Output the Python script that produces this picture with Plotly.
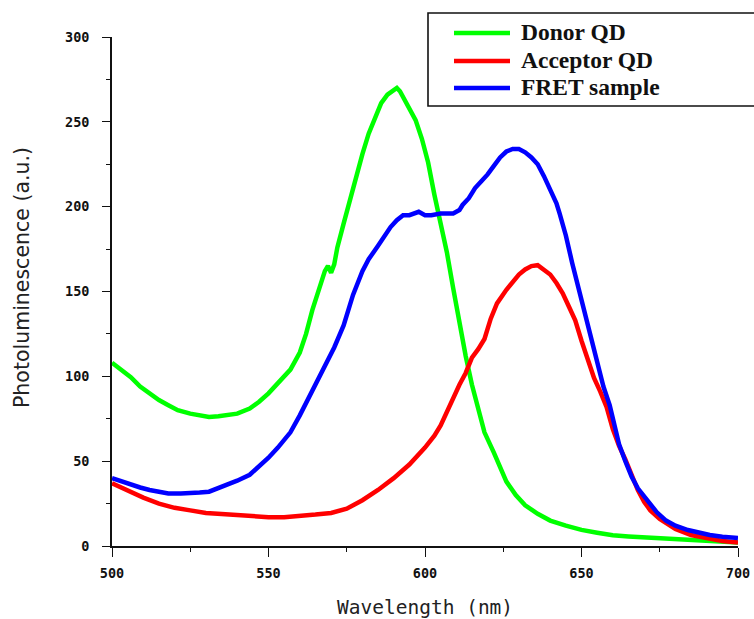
import plotly.graph_objects as go

# ---- spectra (wavelength in nm, photoluminescence in a.u.) ----
donor_wl = [500, 503, 506, 509, 512, 515, 518, 521, 525, 528, 531, 534, 537, 540, 544, 547,
            550, 553, 557, 560, 562, 564, 566, 568, 569, 570, 571, 572, 574, 576, 578, 580,
            582, 584, 586, 588, 590, 591, 592, 594, 596, 597, 599, 601, 603, 605, 607, 609,
            611, 613, 615, 617, 619, 622, 624, 626, 629, 632, 636, 640, 645, 650, 655, 660,
            665, 670, 675, 680, 685, 690, 695, 700]
donor_pl = [108, 104, 99.5, 94, 90, 86, 83, 80, 78, 77, 76, 76.5, 77, 78, 81, 85,
            90, 96, 104, 114, 125, 139, 151, 162, 165, 161, 166, 176, 190, 204, 218, 231,
            243, 252, 261, 266, 269, 270, 268, 261, 255, 251, 240, 226, 207, 190, 173, 152,
            131, 112, 95, 81, 67, 55, 46, 38, 30, 24, 19, 15, 12, 9.5, 7.8, 6.3,
            5.6, 5, 4.5, 4, 3.3, 2.6, 2.2, 2]

acceptor_wl = [500, 505, 510, 515, 520, 525, 530, 535, 540, 545, 550, 555, 560, 565, 570, 575,
               580, 585, 590, 595, 600, 603, 605, 607, 609, 611, 613, 615, 617, 619, 621, 623,
               626, 628, 630, 632, 634, 636, 638, 640, 642, 644, 646, 648, 650, 652, 654, 656,
               658, 660, 662, 664, 666, 668, 670, 672, 675, 680, 685, 690, 695, 700]
acceptor_pl = [37, 32.5, 28.5, 25, 22.5, 21, 19.5, 18.8, 18, 17.5, 17, 17, 17.5, 18.5, 19.5, 22,
               27, 33, 40, 48, 58, 65, 71, 79, 88, 95, 102, 111, 116, 122, 134, 143,
               151, 156, 160, 163, 165, 165.5, 163, 160, 155, 149, 141, 133, 121, 109, 99, 91,
               82, 69, 59, 51, 42, 33, 26, 21, 16, 10, 6.5, 4.5, 3, 2]

fret_wl = [500, 503, 506, 509, 512, 515, 518, 522, 525, 528, 531, 534, 537, 540, 544, 547,
           550, 553, 557, 560, 563, 566, 569, 571, 574, 577, 580, 582, 585, 587, 589, 591,
           593, 595, 597, 598, 600, 602, 605, 609, 611, 612, 614, 616, 618, 620, 622, 624,
           626, 628, 630, 632, 634, 636, 638, 640, 642, 643, 645, 647, 649, 651, 653, 655,
           657, 659, 661, 662, 664, 666, 668, 671, 674, 677, 680, 684, 688, 691, 695, 700]
fret_pl = [40, 38, 36, 34.5, 33, 32, 31, 31, 31, 31.5, 32, 34, 36, 38.5, 42, 47,
           52, 58, 67, 77, 88, 100, 110, 117, 130, 148, 162, 169, 177, 183, 188, 192,
           195, 195, 196, 197, 195, 195, 196, 196, 198, 201, 205, 211, 215, 219, 224, 229,
           232.5, 234, 234, 232, 229, 225, 218, 210, 202, 196, 183, 167, 152, 138, 123, 108,
           94, 83, 68, 60, 50, 41, 34, 27, 20, 15, 12, 9.4, 7.5, 6.5, 5.5, 4.7]

series_names = ["Donor QD", "Acceptor QD", "FRET sample"]
series_colors = ["#00ff00", "#ff0000", "#0000ff"]
series_x = [donor_wl, acceptor_wl, fret_wl]
series_y = [donor_pl, acceptor_pl, fret_pl]

x_ticks = [500, 550, 600, 650, 700]
y_ticks = [0, 50, 100, 150, 200, 250, 300]

# ---- figure geometry (pixels) ----
W, H = 754, 619
ML, MR, MT, MB = 112, 16, 37, 73
PW, PH = W - ML - MR, H - MT - MB


def px_x(p):
    return (p - ML) / PW


def px_y(p):
    return (H - MB - p) / PH


fig = go.Figure()
for xs, ys, name, col in zip(series_x, series_y, series_names, series_colors):
    fig.add_trace(go.Scatter(x=xs, y=ys, mode="lines", name=name,
                             line=dict(color=col, width=4.5), showlegend=False))

tick_font = dict(family="DejaVu Sans Mono", size=13.5, color="#111", weight="bold")
axis_common = dict(showline=True, linecolor="#111", linewidth=1.6, showgrid=False,
                   zeroline=False, ticks="outside", tickcolor="#111", tickwidth=1.4,
                   tickfont=tick_font, mirror=False)

fig.update_xaxes(range=[500, 700], tickvals=x_ticks, ticklen=9,
                 ticklabelstandoff=5,
                 minor=dict(ticks="outside", ticklen=4, dtick=25, tickcolor="#111",
                            tickwidth=1.4, showgrid=False),
                 **axis_common)
fig.update_yaxes(range=[0, 300], tickvals=y_ticks, ticklen=8,
                 ticklabelstandoff=10,
                 minor=dict(ticks="outside", ticklen=4, dtick=25, tickcolor="#111",
                            tickwidth=1.4, showgrid=False),
                 **axis_common)

annotations = [
    dict(text="Wavelength (nm)", x=px_x(425), y=px_y(607), xref="paper", yref="paper",
         showarrow=False, xanchor="center", yanchor="middle",
         font=dict(family="DejaVu Sans Mono", size=19.5, color="#222")),
    dict(text="Photoluminescence (a.u.)", x=px_x(22), y=px_y(278), xref="paper", yref="paper",
         showarrow=False, xanchor="center", yanchor="middle", textangle=-90,
         font=dict(family="DejaVu Sans", size=20.5, color="#222")),
]

# legend box with line samples and labels
shapes = [dict(type="rect", xref="paper", yref="paper",
               x0=px_x(428), x1=px_x(790), y0=px_y(106), y1=px_y(13),
               line=dict(color="#111", width=1.6), fillcolor="white", layer="above")]
legend_rows = [33, 61, 88]
for row, name, col in zip(legend_rows, series_names, series_colors):
    shapes.append(dict(type="line", xref="paper", yref="paper",
                       x0=px_x(454), x1=px_x(510), y0=px_y(row), y1=px_y(row),
                       line=dict(color=col, width=4.5), layer="above"))
    annotations.append(dict(text=name, x=px_x(519), y=px_y(row - 1), xref="paper", yref="paper",
                            showarrow=False, xanchor="left", yanchor="middle",
                            font=dict(family="Liberation Serif", size=23.5, color="#111",
                                      weight="bold")))

fig.update_layout(width=W, height=H, margin=dict(l=ML, r=MR, t=MT, b=MB, autoexpand=False),
                  paper_bgcolor="white", plot_bgcolor="white",
                  shapes=shapes, annotations=annotations)

fig.write_html("out.html")
